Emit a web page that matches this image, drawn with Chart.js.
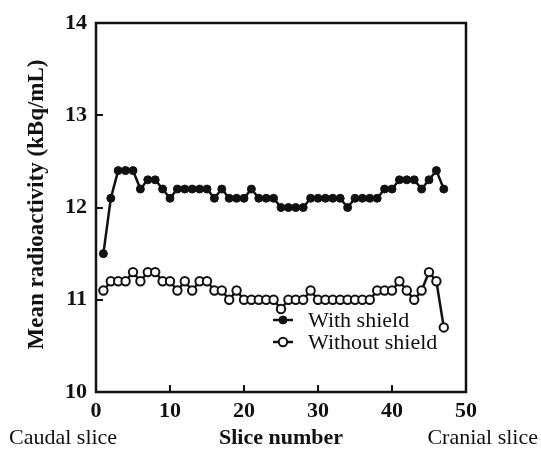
<!DOCTYPE html>
<html>
<head>
<meta charset="utf-8">
<script src="https://cdn.jsdelivr.net/npm/chart.js@4/dist/chart.umd.min.js"></script>
<style>
html,body{margin:0;padding:0;background:#fff;}
#wrap{width:541px;height:454px;}
</style>
</head>
<body>
<div id="wrap"><canvas id="c" width="541" height="454"></canvas></div>
<script>
const slices = [1,2,3,4,5,6,7,8,9,10,11,12,13,14,15,16,17,18,19,20,21,22,23,24,25,26,27,28,29,30,31,32,33,34,35,36,37,38,39,40,41,42,43,44,45,46,47];
const withShield = [11.5,12.1,12.4,12.4,12.4,12.2,12.3,12.3,12.2,12.1,
  12.2,12.2,12.2,12.2,12.2,12.1,12.2,12.1,12.1,12.1,
  12.2,12.1,12.1,12.1,12.0,12.0,12.0,12.0,12.1,12.1,
  12.1,12.1,12.1,12.0,12.1,12.1,12.1,12.1,12.2,12.2,
  12.3,12.3,12.3,12.2,12.3,12.4,12.2];
const withoutShield = [11.1,11.2,11.2,11.2,11.3,11.2,11.3,11.3,11.2,11.2,
  11.1,11.2,11.1,11.2,11.2,11.1,11.1,11.0,11.1,11.0,
  11.0,11.0,11.0,11.0,10.9,11.0,11.0,11.0,11.1,11.0,
  11.0,11.0,11.0,11.0,11.0,11.0,11.0,11.1,11.1,11.1,
  11.2,11.1,11.0,11.1,11.3,11.2,10.7];
const seriesNames = ['With shield','Without shield'];
const xTicks = [0,10,20,30,40,50];
const yTicks = [10,11,12,13,14];
const xTitle = 'Slice number';
const yTitle = 'Mean radioactivity (kBq/mL)';
const endLabels = ['Caudal slice','Cranial slice'];

const INK = '#111';
const SERIF = '"Liberation Serif","Times New Roman",serif';

function pts(vals){ return slices.map((s,i)=>({x:s,y:vals[i]})); }

const decor = {
  id:'decor',
  beforeDatasetsDraw(chart){
    const {ctx, chartArea:a, scales:{x,y}} = chart;
    ctx.save();
    ctx.strokeStyle = INK;
    ctx.lineWidth = 2.5;
    ctx.strokeRect(a.left, a.top, a.right-a.left, a.bottom-a.top);
    ctx.lineWidth = 2;
    x.ticks.forEach(t=>{
      const px = Math.round(x.getPixelForValue(t.value));
      if (px<=a.left+1 || px>=a.right-1) return;
      ctx.beginPath(); ctx.moveTo(px,a.bottom); ctx.lineTo(px,a.bottom-7); ctx.stroke();
    });
    y.ticks.forEach(t=>{
      const py = Math.round(y.getPixelForValue(t.value));
      if (py<=a.top+1 || py>=a.bottom-1) return;
      ctx.beginPath(); ctx.moveTo(a.left,py); ctx.lineTo(a.left+7,py); ctx.stroke();
    });
    // y title
    ctx.fillStyle = INK;
    ctx.font = 'bold 23px ' + SERIF;
    ctx.textAlign = 'center';
    ctx.textBaseline = 'middle';
    ctx.save();
    ctx.translate(37, (a.top+a.bottom)/2 - 3);
    ctx.rotate(-Math.PI/2);
    ctx.fillText(yTitle, 0, 0);
    ctx.restore();
    // end labels
    ctx.font = '22px ' + SERIF;
    ctx.textAlign = 'left';
    ctx.fillText(endLabels[0], 9, 438);
    ctx.textAlign = 'right';
    ctx.fillText(endLabels[1], chart.width-3, 438);
    ctx.restore();
  },
  afterDatasetsDraw(chart){
    const {ctx, chartArea:a} = chart;
    ctx.save();
    chart.data.datasets.forEach((ds,i)=>{
      const cy = a.top + 297 + 22*i;
      const x0 = a.left + 177, x1 = a.left + 197, cx = a.left + 187;
      ctx.strokeStyle = INK; ctx.lineWidth = 2.5;
      ctx.beginPath(); ctx.moveTo(x0,cy); ctx.lineTo(x1,cy); ctx.stroke();
      ctx.beginPath(); ctx.arc(cx,cy,ds.pointRadius,0,Math.PI*2);
      ctx.fillStyle = ds.pointBackgroundColor; ctx.fill();
      ctx.lineWidth = ds.pointBorderWidth; ctx.strokeStyle = INK; ctx.stroke();
      ctx.fillStyle = INK;
      ctx.font = '22px ' + SERIF;
      ctx.textAlign = 'left'; ctx.textBaseline = 'middle';
      ctx.fillText(ds.label, a.left + 212, cy + 1);
    });
    ctx.restore();
  }
};

new Chart(document.getElementById('c'), {
  type:'line',
  data:{
    datasets:[
      {label:seriesNames[0], data:pts(withShield), borderColor:INK, borderWidth:2.5,
       pointRadius:4, pointBackgroundColor:INK, pointBorderColor:INK, pointBorderWidth:1, tension:0},
      {label:seriesNames[1], data:pts(withoutShield), borderColor:INK, borderWidth:2.5,
       pointRadius:4.2, pointBackgroundColor:'#fff', pointBorderColor:INK, pointBorderWidth:2, tension:0}
    ]
  },
  options:{
    responsive:false,
    animation:false,
    devicePixelRatio:1,
    layout:{padding:{left:0,right:75,top:23,bottom:0}},
    plugins:{legend:{display:false}, tooltip:{enabled:false}},
    scales:{
      x:{type:'linear', min:0, max:50,
        afterBuildTicks(s){ s.ticks = xTicks.map(v=>({value:v})); },
        afterFit(s){ s.height = 62; },
        grid:{display:false, drawTicks:false},
        border:{display:false},
        ticks:{color:INK, padding:6, font:{family:SERIF, size:22, weight:'bold'}},
        title:{display:true, text:xTitle, color:INK, padding:{top:0,bottom:2}, font:{family:SERIF, size:22, weight:'bold'}}
      },
      y:{type:'linear', min:10, max:14,
        afterBuildTicks(s){ s.ticks = yTicks.map(v=>({value:v})); },
        afterFit(s){ s.width = 96; },
        grid:{display:false, drawTicks:false},
        border:{display:false},
        ticks:{color:INK, padding:9, font:{family:SERIF, size:22, weight:'bold'}}
      }
    }
  },
  plugins:[decor]
});
</script>
</body>
</html>
